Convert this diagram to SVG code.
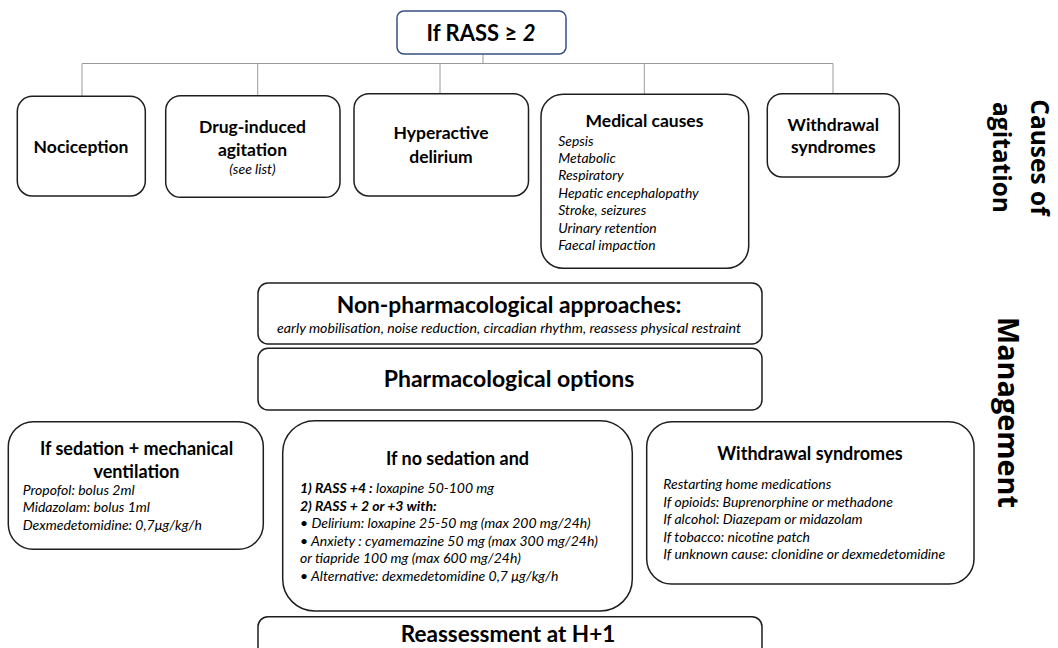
<svg xmlns="http://www.w3.org/2000/svg" width="1058" height="648" viewBox="0 0 1058 648">
<style>
.box{fill:#fff;stroke:#1e1e1e;stroke-width:1.5}
.top{fill:#fff;stroke:#34507f;stroke-width:1.5}
.conn{stroke:#9a9a9a;stroke-width:1;fill:none}
text{font-family:Lato,"Liberation Sans",sans-serif;fill:#000}
.b{font-weight:bold}
.i{font-style:italic}
.c{text-anchor:middle}
.side{font-family:"Open Sans","Liberation Sans",sans-serif;font-weight:bold}
</style>
<rect width="1058" height="648" fill="#fff"/>
<g id="connectors">
<path class="conn" d="M483,54V63.5M82,63.5H833M82,63.5V96M257.7,63.5V96M440,63.5V94M644.3,63.5V94M833,63.5V94"/>
</g>
<g id="rass">
<rect class="top" x="397" y="11" width="169" height="43" rx="7"/>
<text class="b c" x="481" y="41" font-size="22">If RASS ≥ <tspan class="i">2</tspan></text>
</g>
<g id="nociception">
<rect class="box" x="17.3" y="96.3" width="128" height="99.7" rx="15"/>
<text class="b c" x="81" y="152.5" font-size="17.5">Nociception</text>
</g>
<g id="drug">
<rect class="box" x="165.7" y="95.7" width="174.3" height="101.6" rx="15"/>
<text class="b c" x="252.5" y="132.5" font-size="17.5">Drug-induced</text>
<text class="b c" x="252.5" y="156" font-size="17.5">agitation</text>
<text class="i c" x="252.5" y="174" font-size="14">(see list)</text>
</g>
<g id="delirium">
<rect class="box" x="354" y="93.7" width="174.5" height="102.3" rx="15"/>
<text class="b c" x="441" y="139.3" font-size="17.5">Hyperactive</text>
<text class="b c" x="441" y="162.7" font-size="17.5">delirium</text>
</g>
<g id="medical">
<rect class="box" x="541" y="94.3" width="207.7" height="174" rx="22"/>
<text class="b c" x="644.5" y="126.7" font-size="17.5">Medical causes</text>
<text class="i" x="558.3" y="145.7" font-size="13.9">Sepsis</text>
<text class="i" x="558.3" y="163" font-size="13.9">Metabolic</text>
<text class="i" x="558.3" y="180.3" font-size="13.9">Respiratory</text>
<text class="i" x="558.3" y="197.6" font-size="13.9">Hepatic encephalopathy</text>
<text class="i" x="558.3" y="214.9" font-size="13.9">Stroke, seizures</text>
<text class="i" x="558.3" y="232.5" font-size="13.9">Urinary retention</text>
<text class="i" x="558.3" y="250" font-size="13.9">Faecal impaction</text>
</g>
<g id="withdrawal-cause">
<rect class="box" x="767.3" y="93.7" width="132" height="83.3" rx="15"/>
<text class="b c" x="833.3" y="130.7" font-size="17.5">Withdrawal</text>
<text class="b c" x="833.3" y="153.3" font-size="17.5">syndromes</text>
</g>
<g id="label-causes">
<text class="side c" font-size="24.5" transform="translate(1031,157.5) rotate(90)">Causes of</text>
<text class="side c" font-size="24.5" transform="translate(993,157.5) rotate(90)">agitation</text>
</g>
<g id="label-management">
<text class="side c" font-size="28.8" transform="translate(998,412.5) rotate(90)">Management</text>
</g>
<g id="nonpharm">
<rect class="box" x="258" y="283" width="504" height="61" rx="10"/>
<text class="b c" x="509" y="313.3" font-size="22.8">Non-pharmacological approaches:</text>
<text class="i c" x="509" y="333" font-size="14.2">early mobilisation, noise reduction, circadian rhythm, reassess physical restraint</text>
</g>
<g id="pharm">
<rect class="box" x="258" y="348.3" width="504" height="61.7" rx="10"/>
<text class="b c" x="509" y="386.7" font-size="23">Pharmacological options</text>
</g>
<g id="sedation">
<rect class="box" x="8.3" y="421.7" width="255" height="127.6" rx="25"/>
<text class="b c" x="136.5" y="455" font-size="18">If sedation + mechanical</text>
<text class="b c" x="136.5" y="478.3" font-size="18">ventilation</text>
<text class="i" x="22.7" y="495" font-size="14">Propofol: bolus 2ml</text>
<text class="i" x="22.7" y="512.3" font-size="14">Midazolam: bolus 1ml</text>
<text class="i" x="22.7" y="530" font-size="14">Dexmedetomidine: 0,7μg/kg/h</text>
</g>
<g id="nosedation">
<rect class="box" x="282.7" y="420.7" width="349.6" height="190.3" rx="32"/>
<text class="b c" x="457.5" y="465" font-size="18">If no sedation and</text>
<text class="i" x="300" y="493.3" font-size="14"><tspan class="b">1) RASS +4 :</tspan> loxapine 50-100 mg</text>
<text class="i b" x="300" y="510.7" font-size="14">2) RASS + 2 or +3 with:</text>
<text class="i" x="300" y="528.3" font-size="14">• Delirium: loxapine 25-50 mg (max 200 mg/24h)</text>
<text class="i" x="300" y="545.7" font-size="14">• Anxiety : cyamemazine 50 mg (max 300 mg/24h)</text>
<text class="i" x="300" y="563.3" font-size="14">or tiapride 100 mg (max 600 mg/24h)</text>
<text class="i" x="300" y="580.5" font-size="14">• Alternative: dexmedetomidine 0,7 μg/kg/h</text>
</g>
<g id="withdrawal-mgmt">
<rect class="box" x="646.7" y="421.7" width="327.3" height="162.3" rx="25"/>
<text class="b c" x="810" y="460" font-size="18">Withdrawal syndromes</text>
<text class="i" x="663.3" y="489.3" font-size="14">Restarting home medications</text>
<text class="i" x="663.3" y="506.7" font-size="14">If opioids: Buprenorphine or methadone</text>
<text class="i" x="663.3" y="524.3" font-size="14">If alcohol: Diazepam or midazolam</text>
<text class="i" x="663.3" y="541.7" font-size="14">If tobacco: nicotine patch</text>
<text class="i" x="663.3" y="559" font-size="14">If unknown cause: clonidine or dexmedetomidine</text>
</g>
<g id="reassess">
<rect class="box" x="258" y="616.7" width="504" height="45" rx="10"/>
<text class="b c" x="508" y="641.7" font-size="22.5">Reassessment at H+1</text>
</g>
</svg>
